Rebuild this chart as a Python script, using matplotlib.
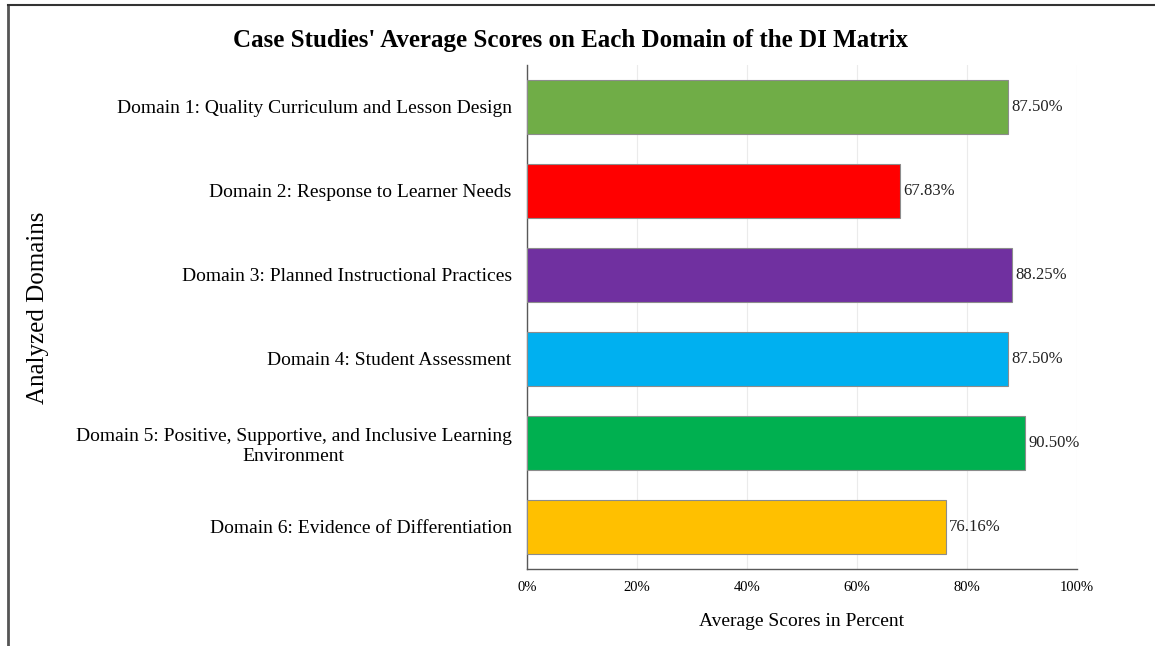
import matplotlib.pyplot as plt
from matplotlib.lines import Line2D

# Average scores per domain (percent)
domains = [
    "Domain 1: Quality Curriculum and Lesson Design",
    "Domain 2: Response to Learner Needs",
    "Domain 3: Planned Instructional Practices",
    "Domain 4: Student Assessment",
    "Domain 5: Positive, Supportive, and Inclusive Learning\nEnvironment",
    "Domain 6: Evidence of Differentiation",
]
scores = [87.50, 67.83, 88.25, 87.50, 90.50, 76.16]
colors = ["#70AD47", "#FF0000", "#7030A0", "#00B0F0", "#00B050", "#FFC000"]
xticks = [0, 20, 40, 60, 80, 100]

plt.rcParams['font.family'] = ['Liberation Serif', 'DejaVu Serif']

fig = plt.figure(figsize=(11.55, 6.46), dpi=100)
ax = fig.add_axes([0.4563, 0.1192, 0.4762, 0.7802])

ypos = list(range(len(domains)))
ax.barh(ypos, scores, height=0.64, color=colors, edgecolor="#8c8c8c", linewidth=0.8, zorder=3)
for y, s in zip(ypos, scores):
    ax.text(s + 0.6, y, f"{s:.2f}%", va="center", ha="left", fontsize=12, color="#222222")

ax.set_xlim(0, 100)
ax.set_ylim(len(domains) - 0.5, -0.5)
ax.set_yticks(ypos)
ax.set_yticklabels(domains, fontsize=14, multialignment="center")
ax.set_xticks(xticks)
ax.set_xticklabels([f"{t}%" for t in xticks], fontsize=10.5)
ax.tick_params(axis="y", length=0, pad=11)
ax.tick_params(axis="x", length=0, pad=9)
ax.grid(axis="x", color="#ebebeb", linewidth=0.8, zorder=0)
for side in ("top", "right"):
    ax.spines[side].set_visible(False)
for side in ("left", "bottom"):
    ax.spines[side].set_color("#595959")
    ax.spines[side].set_linewidth(1.0)

ax.set_xlabel("Average Scores in Percent", fontsize=14, labelpad=13)
fig.text(0.033, 0.523, "Analyzed Domains", rotation=90, fontsize=18, va="center", ha="center")
fig.text(0.494, 0.938, "Case Studies' Average Scores on Each Domain of the DI Matrix",
         fontsize=18, fontweight="bold", ha="center", va="center")

# frame edges along left and top
fig.add_artist(Line2D([0.0065, 0.0065], [0, 0.992], transform=fig.transFigure, color="#555555", linewidth=2))
fig.add_artist(Line2D([0.0065, 1.0], [0.992, 0.992], transform=fig.transFigure, color="#333333", linewidth=1.5))

fig.savefig("out.png", dpi=100)
